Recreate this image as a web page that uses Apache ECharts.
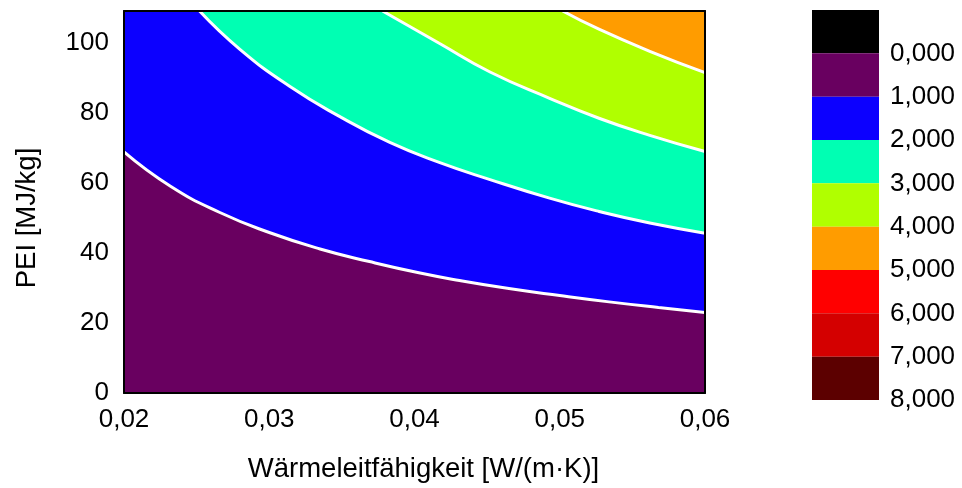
<!DOCTYPE html>
<html>
<head>
<meta charset="utf-8">
<script src="https://cdn.jsdelivr.net/npm/echarts@6/dist/echarts.min.js"></script>
<style>
html,body{margin:0;padding:0;background:#fff;}
#chart{width:962px;height:488px;}
</style>
</head>
<body>
<div id="chart"></div>
<script>
// ---- data ----
const xRange = [0.02, 0.06];
const yRange = [0, 109];
const xTicks = [0.02, 0.03, 0.04, 0.05, 0.06];
const yTicks = [0, 20, 40, 60, 80, 100];
const levels = [0, 1, 2, 3, 4, 5, 6, 7, 8];
// band colours: above-top (black), 0-1, 1-2, ... 7-8
const bandColors = ['#000000', '#690060', '#0c00ff', '#00ffb3', '#b0ff00', '#ff9c00', '#ff0000', '#d40000', '#5c0000'];

// contour lines (x = Wärmeleitfähigkeit, y = PEI)
const contour1 = [[0.0200,68.8],[0.0232,59.0],[0.0266,51.5],[0.0300,45.8],[0.0335,41.1],[0.0369,37.5],[0.0403,34.3],[0.0431,32.1],[0.0465,29.8],[0.0500,27.8],[0.0534,26.0],[0.0568,24.4],[0.0600,23.0]];
const contour2 = [[0.0252,109],[0.0280,98.0],[0.0314,87.5],[0.0348,79.0],[0.0383,71.5],[0.0417,65.8],[0.0452,60.9],[0.0493,55.6],[0.0527,51.8],[0.0562,48.5],[0.0600,45.6]];
const contour3 = [[0.0378,109],[0.0417,99.8],[0.0452,91.6],[0.0493,84.1],[0.0527,78.4],[0.0562,73.5],[0.0600,68.9]];
const contour4 = [[0.0502,109],[0.0527,103.8],[0.0562,97.5],[0.0600,91.4]];

const contours = [contour1, contour2, contour3, contour4];

const FONT = '"Liberation Sans", Arial, sans-serif';
const fmtComma = (v, d) => v.toFixed(d).replace('.', ',');

const chart = echarts.init(document.getElementById('chart'), null, {renderer: 'canvas'});

const SMOOTH = 0.5;
const series = [];
// each contour fills the band above it; drawn in ascending level order
contours.forEach((c, k) => {
  series.push({
    type: 'line', xAxisIndex: 0, yAxisIndex: 0,
    data: c, showSymbol: false, smooth: SMOOTH,
    lineStyle: {color: '#ffffff', width: 3},
    areaStyle: {color: bandColors[k + 2], opacity: 1, origin: 'end'},
    silent: true, z: 2
  });
});
// colour bar
bandColors.forEach((col, i) => {
  series.push({
    type: 'bar', xAxisIndex: 1, yAxisIndex: 1, stack: 'cb',
    data: [i === 0 ? -1 : 1], barWidth: '100%',
    itemStyle: {color: col}, silent: true
  });
});

const frameLine = {show: true, onZero: false, lineStyle: {color: '#000', width: 2}};

chart.setOption({
  animation: false,
  backgroundColor: '#ffffff',
  grid: [
    {left: 124, top: 11, width: 581, height: 387, show: true,
     backgroundColor: bandColors[1], borderWidth: 0},
    {left: 812, top: 10, width: 67, height: 390}
  ],
  xAxis: [
    {type: 'value', gridIndex: 0, min: xRange[0], max: xRange[1], interval: 0.01, z: 10,
     axisLine: frameLine, axisTick: {show: false}, splitLine: {show: false},
     axisLabel: {color: '#000', fontSize: 26, fontFamily: FONT, margin: 14,
       formatter: v => xTicks.some(t => Math.abs(t - v) < 1e-9) ? fmtComma(v, 2) : ''},
     name: 'Wärmeleitfähigkeit [W/(m·K)]', nameLocation: 'middle', nameGap: 62,
     nameTextStyle: {color: '#000', fontSize: 27.5, fontFamily: FONT, padding: [0, 0, 0, 18]}},
    {type: 'category', gridIndex: 1, data: [''], show: false},
    {type: 'value', gridIndex: 0, position: 'top', min: xRange[0], max: xRange[1], z: 10,
     axisLine: frameLine, axisTick: {show: false}, axisLabel: {show: false}, splitLine: {show: false}}
  ],
  yAxis: [
    {type: 'value', gridIndex: 0, min: yRange[0], max: yRange[1], interval: 20, z: 10,
     axisLine: frameLine, axisTick: {show: false}, splitLine: {show: false},
     axisLabel: {color: '#000', fontSize: 26, fontFamily: FONT, margin: 15,
       formatter: v => yTicks.includes(v) ? String(v) : ''},
     name: 'PEI [MJ/kg]', nameLocation: 'middle', nameGap: 83,
     nameTextStyle: {color: '#000', fontSize: 27.5, fontFamily: FONT, padding: [0, 32, 0, 0]}},
    {type: 'value', gridIndex: 1, min: -1, max: 8, interval: 1, inverse: true, position: 'right',
     axisLine: {show: false}, axisTick: {show: false}, splitLine: {show: false},
     axisLabel: {color: '#000', fontSize: 26, fontFamily: FONT, margin: 11, padding: [9, 0, 0, 0],
       formatter: v => levels.includes(v) ? fmtComma(v, 3) : ''}},
    {type: 'value', gridIndex: 0, position: 'right', min: yRange[0], max: yRange[1], z: 10,
     axisLine: frameLine, axisTick: {show: false}, axisLabel: {show: false}, splitLine: {show: false}}
  ],
  series: series
});
</script>
</body>
</html>
